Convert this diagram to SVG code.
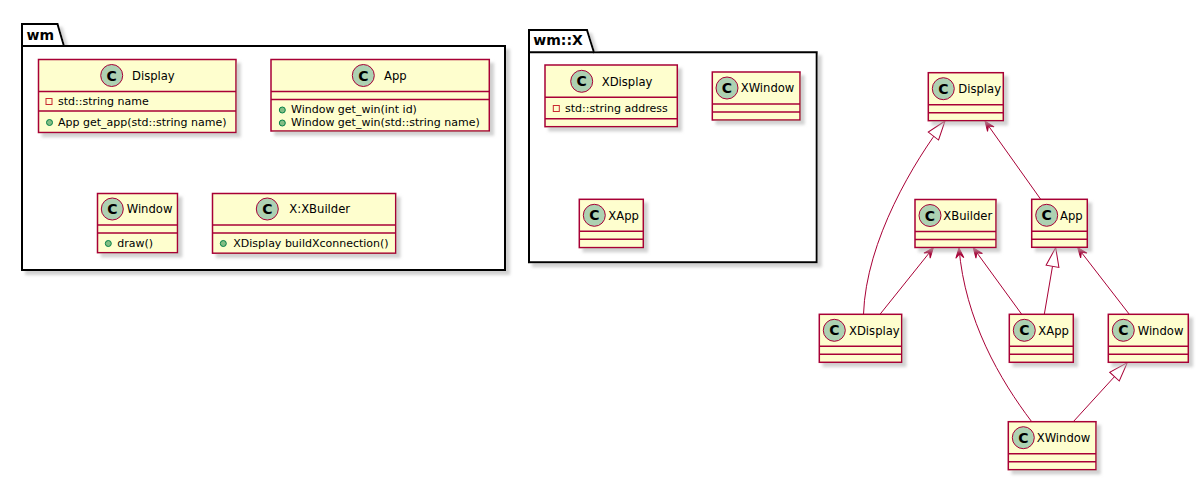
<svg xmlns="http://www.w3.org/2000/svg" width="1199" height="481" viewBox="0 0 1199 481">
<defs>
<style>
.pkg{fill:#FFFFFF;stroke:#000000;stroke-width:2}
.pkgl{fill:none;stroke:#000000;stroke-width:2}
.ptitle{font-family:"DejaVu Sans","Liberation Sans",sans-serif;font-size:14px;font-weight:bold;fill:#000000}
.box{fill:#FEFECE;stroke:#A80036;stroke-width:1.5}
.sep{stroke:#A80036;stroke-width:1.5}
.spot{fill:#ADD1B2;stroke:#A80036;stroke-width:1}
.spotc{font-family:"DejaVu Sans","Liberation Sans",sans-serif;font-size:14px;font-weight:bold;fill:#000000;text-anchor:middle}
.name{font-family:"DejaVu Sans","Liberation Sans",sans-serif;font-size:11.6px;fill:#000000}
.mem{font-family:"DejaVu Sans","Liberation Sans",sans-serif;font-size:11px;fill:#000000}
.priv{fill:none;stroke:#C82930;stroke-width:1}
.pub{fill:#84BE84;stroke:#038048;stroke-width:1}
.edge{fill:none;stroke:#A80036;stroke-width:1}
.arr{marker-end:url(#arrow)}
.gen{marker-end:url(#tri)}
</style>
<filter id="sh" x="-10%" y="-10%" width="130%" height="140%">
<feGaussianBlur in="SourceAlpha" stdDeviation="1.8"/>
<feColorMatrix type="matrix" values="0 0 0 0 0.45  0 0 0 0 0.45  0 0 0 0 0.45  0 0 0 0.6 0"/>
<feOffset dx="4" dy="4" result="s"/>
<feMerge><feMergeNode in="s"/><feMergeNode in="SourceGraphic"/></feMerge>
</filter>
<marker id="arrow" markerUnits="userSpaceOnUse" viewBox="-12 -6 14 12" markerWidth="14" markerHeight="12" refX="0" refY="0" orient="auto">
<path d="M0,0 L-10,-4 L-6,0 L-10,4 Z" fill="#A80036" stroke="#A80036" stroke-width="1"/>
</marker>
<marker id="tri" markerUnits="userSpaceOnUse" viewBox="-21 -9 23 18" markerWidth="23" markerHeight="18" refX="0" refY="0" orient="auto">
<path d="M0,0 L-19,-6.5 L-19,6.5 Z" fill="#FFFFFF" stroke="#A80036" stroke-width="1"/>
</marker>
</defs>
<rect x="0" y="0" width="1199" height="481" fill="#FFFFFF"/>

<g id="pkg-wm">
<path class="pkg" filter="url(#sh)" d="M22,24 L57.5,24 L64,46 L505,46 L505,270 L22,270 Z"/>
<line class="pkgl" x1="22" y1="46" x2="64" y2="46"/>
<text class="ptitle" x="26.5" y="39.5">wm</text>
</g>

<g id="pkg-wmX">
<path class="pkg" filter="url(#sh)" d="M529,30 L587,30 L594,52.3 L816.7,52.3 L816.7,262.3 L529,262.3 Z"/>
<line class="pkgl" x1="529" y1="52.3" x2="594" y2="52.3"/>
<text class="ptitle" x="533.3" y="44.5">wm::X</text>
</g>

<g id="wm-Display">
<rect class="box" filter="url(#sh)" x="38.5" y="59.5" width="197.5" height="73"/>
<line class="sep" x1="38.5" y1="91.5" x2="236" y2="91.5"/>
<line class="sep" x1="38.5" y1="111" x2="236" y2="111"/>
<circle class="spot" cx="111.7" cy="75.5" r="11"/>
<text class="spotc" x="111.7" y="80.6">C</text>
<text class="name" x="132" y="79.8">Display</text>
<rect class="priv" x="46" y="98.5" width="6" height="6"/>
<text class="mem" x="58" y="104.5">std::string name</text>
<circle class="pub" cx="49.5" cy="122.5" r="3"/>
<text class="mem" x="58" y="125.5">App get_app(std::string name)</text>
</g>

<g id="wm-App">
<rect class="box" filter="url(#sh)" x="271" y="59.5" width="218.3" height="71.5"/>
<line class="sep" x1="271" y1="91.5" x2="489.3" y2="91.5"/>
<line class="sep" x1="271" y1="99.5" x2="489.3" y2="99.5"/>
<circle class="spot" cx="363.3" cy="75.5" r="11"/>
<text class="spotc" x="363.3" y="80.6">C</text>
<text class="name" x="384" y="79.8">App</text>
<circle class="pub" cx="282.3" cy="110" r="3"/>
<text class="mem" x="291" y="113">Window get_win(int id)</text>
<circle class="pub" cx="282.3" cy="123" r="3"/>
<text class="mem" x="291" y="126">Window get_win(std::string name)</text>
</g>

<g id="wm-Window">
<rect class="box" filter="url(#sh)" x="97.5" y="193.5" width="80" height="59.2"/>
<line class="sep" x1="97.5" y1="225" x2="177.5" y2="225"/>
<line class="sep" x1="97.5" y1="233" x2="177.5" y2="233"/>
<circle class="spot" cx="112.3" cy="209" r="11"/>
<text class="spotc" x="112.3" y="214.1">C</text>
<text class="name" x="126.7" y="213.3">Window</text>
<circle class="pub" cx="108.3" cy="243.5" r="3"/>
<text class="mem" x="117.3" y="246.7">draw()</text>
</g>

<g id="wm-XBuilder">
<rect class="box" filter="url(#sh)" x="212.5" y="193.5" width="183.2" height="59.7"/>
<line class="sep" x1="212.5" y1="225" x2="395.7" y2="225"/>
<line class="sep" x1="212.5" y1="233" x2="395.7" y2="233"/>
<circle class="spot" cx="267.3" cy="209" r="11"/>
<text class="spotc" x="267.3" y="214.1">C</text>
<text class="name" x="289.3" y="213.3">X:XBuilder</text>
<circle class="pub" cx="223.3" cy="243.5" r="3"/>
<text class="mem" x="233.3" y="246.7">XDisplay buildXconnection()</text>
</g>

<g id="wmX-XDisplay">
<rect class="box" filter="url(#sh)" x="545" y="65" width="132.3" height="61.7"/>
<line class="sep" x1="545" y1="97.3" x2="677.3" y2="97.3"/>
<line class="sep" x1="545" y1="118.8" x2="677.3" y2="118.8"/>
<circle class="spot" cx="581.7" cy="81.3" r="11"/>
<text class="spotc" x="581.7" y="86.4">C</text>
<text class="name" x="601.7" y="85.6">XDisplay</text>
<rect class="priv" x="553.3" y="105.5" width="6" height="6"/>
<text class="mem" x="565" y="111.7">std::string address</text>
</g>

<g id="wmX-XWindow">
<rect class="box" filter="url(#sh)" x="712.3" y="72" width="87.7" height="48"/>
<line class="sep" x1="712.3" y1="104" x2="800" y2="104"/>
<line class="sep" x1="712.3" y1="112" x2="800" y2="112"/>
<circle class="spot" cx="727" cy="88" r="11"/>
<text class="spotc" x="727" y="93.1">C</text>
<text class="name" x="740.7" y="92.3">XWindow</text>
</g>

<g id="wmX-XApp">
<rect class="box" filter="url(#sh)" x="579.3" y="199.3" width="64" height="48.3"/>
<line class="sep" x1="579.3" y1="231.3" x2="643.3" y2="231.3"/>
<line class="sep" x1="579.3" y1="239.3" x2="643.3" y2="239.3"/>
<circle class="spot" cx="594.3" cy="215.3" r="11"/>
<text class="spotc" x="594.3" y="220.4">C</text>
<text class="name" x="608.3" y="219.6">XApp</text>
</g>

<g id="connectors">
<path class="edge gen" d="M863.5,314.3 C866,240 915,160 945,121"/>
<path class="edge arr" d="M880,314.3 L933.3,247.8"/>
<path class="edge arr" d="M1031.7,421.7 C1000,380 965,320 959,248"/>
<path class="edge arr" d="M1021.7,314.3 L973.3,247.8"/>
<path class="edge arr" d="M1040.7,199.3 L985,121"/>
<path class="edge gen" d="M1044.3,314.3 L1055.7,247.6"/>
<path class="edge arr" d="M1129.3,314.3 L1077.7,247.6"/>
<path class="edge gen" d="M1073.3,421.7 L1127.3,362.6"/>
</g>

<g id="Display">
<rect class="box" filter="url(#sh)" x="928.3" y="72.7" width="75" height="48"/>
<line class="sep" x1="928.3" y1="104.7" x2="1003.3" y2="104.7"/>
<line class="sep" x1="928.3" y1="112.7" x2="1003.3" y2="112.7"/>
<circle class="spot" cx="943.3" cy="88.7" r="11"/>
<text class="spotc" x="943.3" y="93.8">C</text>
<text class="name" x="958.3" y="93">Display</text>
</g>

<g id="XBuilder">
<rect class="box" filter="url(#sh)" x="915" y="199.5" width="81" height="48"/>
<line class="sep" x1="915" y1="231.5" x2="996" y2="231.5"/>
<line class="sep" x1="915" y1="239.5" x2="996" y2="239.5"/>
<circle class="spot" cx="930" cy="215.5" r="11"/>
<text class="spotc" x="930" y="220.6">C</text>
<text class="name" x="943.3" y="219.8">XBuilder</text>
</g>

<g id="App">
<rect class="box" filter="url(#sh)" x="1031.7" y="199.3" width="55.6" height="48"/>
<line class="sep" x1="1031.7" y1="231.3" x2="1087.3" y2="231.3"/>
<line class="sep" x1="1031.7" y1="239.3" x2="1087.3" y2="239.3"/>
<circle class="spot" cx="1046.7" cy="215.3" r="11"/>
<text class="spotc" x="1046.7" y="220.4">C</text>
<text class="name" x="1060" y="219.6">App</text>
</g>

<g id="XDisplay">
<rect class="box" filter="url(#sh)" x="819.3" y="314.3" width="82.4" height="48"/>
<line class="sep" x1="819.3" y1="346.3" x2="901.7" y2="346.3"/>
<line class="sep" x1="819.3" y1="354.3" x2="901.7" y2="354.3"/>
<circle class="spot" cx="834.3" cy="330.3" r="11"/>
<text class="spotc" x="834.3" y="335.4">C</text>
<text class="name" x="849" y="334.6">XDisplay</text>
</g>

<g id="XApp">
<rect class="box" filter="url(#sh)" x="1009.3" y="314.3" width="64" height="48"/>
<line class="sep" x1="1009.3" y1="346.3" x2="1073.3" y2="346.3"/>
<line class="sep" x1="1009.3" y1="354.3" x2="1073.3" y2="354.3"/>
<circle class="spot" cx="1024.3" cy="330.3" r="11"/>
<text class="spotc" x="1024.3" y="335.4">C</text>
<text class="name" x="1038.3" y="334.6">XApp</text>
</g>

<g id="Window">
<rect class="box" filter="url(#sh)" x="1108.3" y="314.3" width="80" height="48"/>
<line class="sep" x1="1108.3" y1="346.3" x2="1188.3" y2="346.3"/>
<line class="sep" x1="1108.3" y1="354.3" x2="1188.3" y2="354.3"/>
<circle class="spot" cx="1123.3" cy="330.3" r="11"/>
<text class="spotc" x="1123.3" y="335.4">C</text>
<text class="name" x="1137.7" y="334.6">Window</text>
</g>

<g id="XWindow">
<rect class="box" filter="url(#sh)" x="1008.3" y="421.7" width="87.7" height="48"/>
<line class="sep" x1="1008.3" y1="453.7" x2="1096" y2="453.7"/>
<line class="sep" x1="1008.3" y1="461.7" x2="1096" y2="461.7"/>
<circle class="spot" cx="1023.3" cy="437.7" r="11"/>
<text class="spotc" x="1023.3" y="442.8">C</text>
<text class="name" x="1036.7" y="442">XWindow</text>
</g>
</svg>
